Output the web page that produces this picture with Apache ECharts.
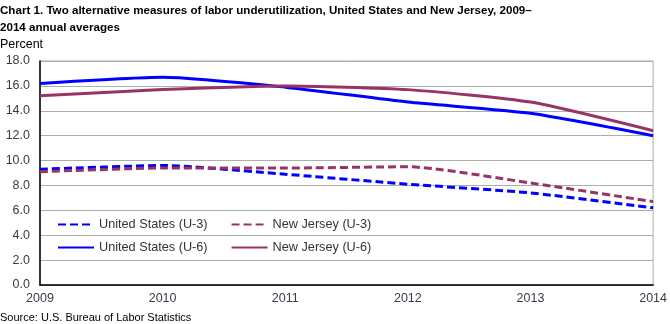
<!DOCTYPE html>
<html>
<head>
<meta charset="utf-8">
<script src="https://cdn.jsdelivr.net/npm/echarts@6/dist/echarts.min.js"></script>
<style>html,body{margin:0;padding:0;background:#fff}#c{width:670px;height:324px}</style>
</head>
<body>
<div id="c"></div>
<script>
const years = ['2009', '2010', '2011', '2012', '2013', '2014'];
const usU3 = [9.3, 9.6, 8.9, 8.1, 7.4, 6.2];
const njU3 = [9.1, 9.4, 9.4, 9.5, 8.2, 6.7];
const usU6 = [16.2, 16.7, 15.9, 14.7, 13.8, 12.0];
const njU6 = [15.2, 15.7, 16.0, 15.7, 14.7, 12.4];
const names = ['United States (U-3)', 'New Jersey (U-3)', 'United States (U-6)', 'New Jersey (U-6)'];

const FONT = '"Liberation Sans", Arial, sans-serif';
const BLUE = '#0000ff';
const PURPLE = '#993366';
const chart = echarts.init(document.getElementById('c'));
const legendBase = {
  left: 57, padding: 0, itemWidth: 36, itemHeight: 12, itemGap: 23,
  itemStyle: { opacity: 0 },
  textStyle: { fontFamily: FONT, fontSize: 12.7, color: '#333' }
};
function mk(name, data, color, dashed) {
  return {
    name, type: 'line', data, smooth: 0.2, symbol: 'none',
    lineStyle: { color, width: 3, type: dashed ? [8, 4] : 'solid' },
    itemStyle: { color }, z: dashed ? 3 : 4
  };
}
chart.setOption({
  animation: false,
  title: [
    { text: 'Chart 1. Two alternative measures of labor underutilization, United States and New Jersey, 2009–\n2014 annual averages',
      left: 0, top: 2, padding: 0,
      textStyle: { fontFamily: FONT, fontSize: 11.6, fontWeight: 'bold', color: '#000', lineHeight: 17 } },
    { text: 'Percent', left: 0, top: 38, padding: 0,
      textStyle: { fontFamily: FONT, fontSize: 12.5, fontWeight: 'normal', color: '#000' } },
    { text: 'Source: U.S. Bureau of Labor Statistics', left: 0, top: 312, padding: 0,
      textStyle: { fontFamily: FONT, fontSize: 11, fontWeight: 'normal', color: '#000' } }
  ],
  grid: { left: 40, right: 14, top: 61, bottom: 39, show: true, borderColor: '#a8b0a8', borderWidth: 1 },
  legend: [
    Object.assign({}, legendBase, { top: 218, data: [names[0], names[1]] }),
    Object.assign({}, legendBase, { top: 241, data: [names[2], names[3]] })
  ],
  xAxis: {
    type: 'category', data: years, boundaryGap: false,
    axisLine: { lineStyle: { color: '#000', width: 1.5 } },
    axisTick: { show: false },
    axisLabel: { fontFamily: FONT, fontSize: 12.5, color: '#3a3a48', margin: 7 },
    splitLine: { show: false }
  },
  yAxis: {
    type: 'value', min: 0, max: 18, interval: 2,
    axisLine: { show: true, lineStyle: { color: '#000', width: 1.5 } },
    axisTick: { show: false },
    axisLabel: { fontFamily: FONT, fontSize: 12.5, color: '#3a3a48', margin: 10, formatter: v => v.toFixed(1) },
    splitLine: { show: true, lineStyle: { color: '#a8b0a8', width: 1 } }
  },
  series: [
    mk(names[0], usU3, BLUE, true),
    mk(names[1], njU3, PURPLE, true),
    mk(names[2], usU6, BLUE, false),
    mk(names[3], njU6, PURPLE, false)
  ]
});
</script>
</body>
</html>
